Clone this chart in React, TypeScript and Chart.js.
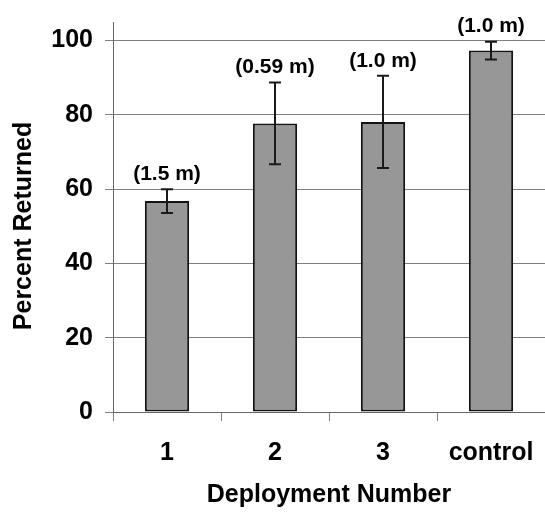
import { useEffect, useRef } from 'react';
import { Chart, registerables } from 'chart.js';

Chart.register(...registerables);

const categories = ['1', '2', '3', 'control'];
const percentReturned = [56.8, 77.7, 78.1, 97.3];
const errorMargins = [3.2, 11.0, 12.4, 2.4];
const depthLabels = ['(1.5 m)', '(0.59 m)', '(1.0 m)', '(1.0 m)'];
const yTickValues = [0, 20, 40, 60, 80, 100];
const xAxisTitle = 'Deployment Number';
const yAxisTitle = 'Percent Returned';

const FONT = '"Liberation Sans", Arial, Helvetica, sans-serif';

const errorBarPlugin = {
  id: 'errorBarsAndLabels',
  afterDatasetsDraw(chart: any) {
    const { ctx } = chart;
    const y = chart.scales.y;
    const meta = chart.getDatasetMeta(0);
    ctx.save();
    meta.data.forEach((bar: any, i: number) => {
      const v = percentReturned[i];
      const e = errorMargins[i];
      const x = Math.round(bar.x);
      const yTop = y.getPixelForValue(v + e);
      const yBot = y.getPixelForValue(v - e);
      ctx.strokeStyle = '#1a1a1a';
      ctx.lineWidth = 2;
      ctx.beginPath();
      ctx.moveTo(x, yTop);
      ctx.lineTo(x, yBot);
      ctx.moveTo(x - 6, yTop);
      ctx.lineTo(x + 6, yTop);
      ctx.moveTo(x - 6, yBot);
      ctx.lineTo(x + 6, yBot);
      ctx.stroke();
      ctx.fillStyle = '#000';
      ctx.font = `bold 21px ${FONT}`;
      ctx.textAlign = 'center';
      ctx.textBaseline = 'middle';
      ctx.fillText(depthLabels[i], x, yTop - 15);
    });
    ctx.restore();
  },
};

const yTitlePlugin = {
  id: 'yTitle',
  afterDraw(chart: any) {
    const { ctx } = chart;
    ctx.save();
    ctx.translate(24, 226);
    ctx.rotate(-Math.PI / 2);
    ctx.fillStyle = '#000';
    ctx.font = `bold 25px ${FONT}`;
    ctx.textAlign = 'center';
    ctx.textBaseline = 'middle';
    ctx.fillText(yAxisTitle, 0, 0);
    ctx.restore();
  },
};

export default function App() {
  const canvasRef = useRef<HTMLCanvasElement | null>(null);

  useEffect(() => {
    if (!canvasRef.current) return;
    const chart = new Chart(canvasRef.current, {
      type: 'bar',
      data: {
        labels: categories,
        datasets: [
          {
            data: percentReturned,
            backgroundColor: '#979797',
            borderColor: '#141414',
            borderWidth: 2,
            borderSkipped: false,
            barPercentage: 0.41,
            categoryPercentage: 1,
          },
        ],
      },
      options: {
        animation: false,
        responsive: false,
        layout: { padding: { top: 22, left: 0, right: 0, bottom: 0 } },
        plugins: {
          legend: { display: false },
          tooltip: { enabled: false },
        },
        scales: {
          x: {
            afterFit: (scale: any) => {
              scale.height = 100;
              scale.paddingLeft = 0;
              scale.paddingRight = 0;
              scale.paddingTop = 0;
              scale.paddingBottom = 0;
            },
            grid: {
              offset: true,
              drawOnChartArea: false,
              drawTicks: true,
              tickLength: 9,
              color: '#808080',
            },
            border: { display: true, color: '#666666', width: 1 },
            ticks: {
              font: { family: FONT, size: 25, weight: 'bold' },
              color: '#000',
              padding: 17,
            },
            title: {
              display: true,
              text: xAxisTitle,
              font: { family: FONT, size: 25, weight: 'bold' },
              color: '#000',
              padding: { top: 0, bottom: 2 },
            },
          },
          y: {
            min: 0,
            max: 105,
            afterBuildTicks: (scale: any) => {
              scale.ticks = yTickValues.map((v) => ({ value: v }));
            },
            afterFit: (scale: any) => {
              scale.width = 113;
              scale.paddingTop = 0;
              scale.paddingBottom = 0;
              scale.paddingLeft = 0;
              scale.paddingRight = 0;
            },
            grid: {
              color: '#808080',
              lineWidth: 1,
              drawTicks: true,
              tickLength: 8,
            },
            border: { display: true, color: '#666666', width: 1 },
            ticks: {
              font: { family: FONT, size: 25, weight: 'bold' },
              color: '#000',
              padding: 12,
            },
          },
        },
      },
      plugins: [errorBarPlugin, yTitlePlugin],
    });
    return () => chart.destroy();
  }, []);

  return (
    <div style={{ position: 'fixed', left: 0, top: 0, width: 545, height: 512, background: '#fff' }}>
      <canvas ref={canvasRef} width={545} height={512} style={{ display: 'block' }} />
    </div>
  );
}
